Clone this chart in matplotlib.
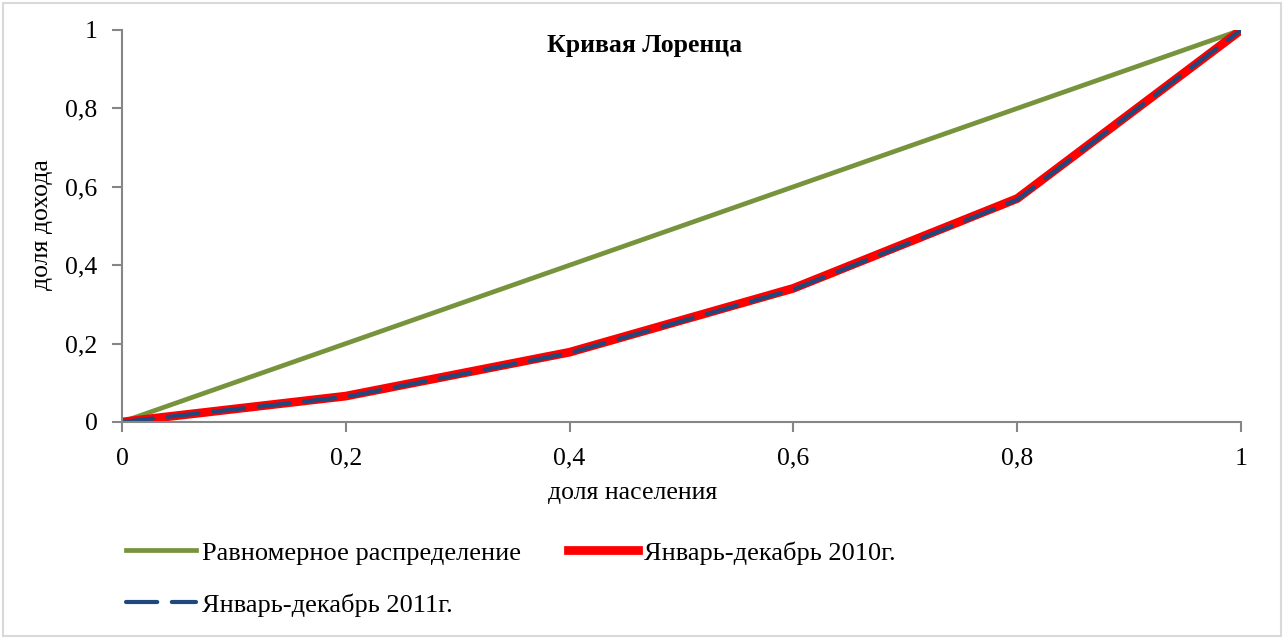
import matplotlib
matplotlib.use("Agg")
import matplotlib.pyplot as plt
from matplotlib.patches import Rectangle
from matplotlib.ticker import FuncFormatter

plt.rcParams['font.family'] = ['Liberation Serif', 'DejaVu Serif']

# доли населения и дохода
population = [0, 0.2, 0.4, 0.6, 0.8, 1.0]
uniform = [0, 0.2, 0.4, 0.6, 0.8, 1.0]
income_2010 = [0, 0.066, 0.178, 0.341, 0.570, 1.0]
income_2011 = [0, 0.064, 0.176, 0.338, 0.567, 1.0]
ticks = [0, 0.2, 0.4, 0.6, 0.8, 1.0]

fig = plt.figure(figsize=(12.85, 6.38), dpi=100)
ax = fig.add_axes([0.0949, 0.3386, 0.8709, 0.6144])

ax.plot(population, uniform, color="#77933C", lw=3.4,
        label="Равномерное распределение")
ax.plot(population, income_2010, color="#FF0000", lw=6.3,
        label="Январь-декабрь 2010г.")
ax.plot(population, income_2011, color="#1F497D", lw=3,
        linestyle=(0, (7.5, 3.5)), dash_capstyle="round",
        label="Январь-декабрь 2011г.")

ax.set_xlim(0, 1)
ax.set_ylim(0, 1)
ax.set_xticks(ticks)
ax.set_yticks(ticks)
fmt = FuncFormatter(lambda v, p: ("%g" % round(v, 1)).replace(".", ","))
ax.xaxis.set_major_formatter(fmt)
ax.yaxis.set_major_formatter(fmt)

for s in ["top", "right"]:
    ax.spines[s].set_visible(False)
for s in ["left", "bottom"]:
    ax.spines[s].set_color("#868686")
    ax.spines[s].set_linewidth(1.5)
ax.tick_params(direction="out", length=7, width=1.5, color="#868686",
               labelsize=18.5)
ax.tick_params(axis="x", pad=11.5)
ax.tick_params(axis="y", pad=10.5)

ax.set_xlabel("доля населения", fontsize=18.5)
ax.set_ylabel("доля дохода", fontsize=18.5)
ax.xaxis.set_label_coords(0.456, -0.153)
ax.yaxis.set_label_coords(-0.0617, 0.503)
ax.text(0.467, 0.99, "Кривая Лоренца", transform=ax.transAxes,
        ha="center", va="top", fontsize=18.5, fontweight="bold")

h, l = ax.get_legend_handles_labels()
order = [0, 2, 1]
fig.legend([h[i] for i in order], [l[i] for i in order], ncol=2,
           loc="upper left", bbox_to_anchor=(0.0795, 0.189),
           bbox_transform=fig.transFigure, frameon=False, fontsize=19,
           handlelength=2.65, handletextpad=0.23, columnspacing=1.8,
           labelspacing=1.08)

fig.patches.append(Rectangle((0.002, 0.003), 0.995, 0.993,
                             transform=fig.transFigure, fill=False,
                             edgecolor="#D9D9D9", lw=1.5))

fig.savefig("out.png", dpi=100)
